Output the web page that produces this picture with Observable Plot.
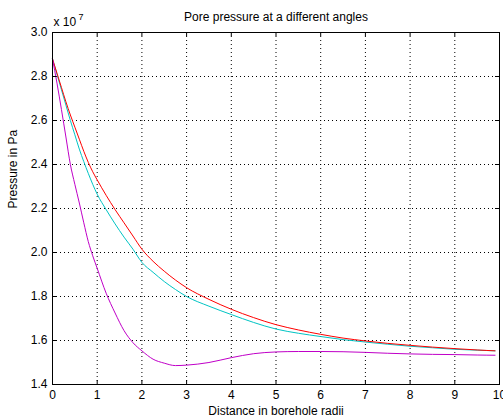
<!DOCTYPE html>
<html>
<head>
<meta charset="utf-8">
<script src="https://cdn.jsdelivr.net/npm/d3@7"></script>
<script src="https://cdn.jsdelivr.net/npm/@observablehq/plot@0.6"></script>
<style>
  html, body { margin: 0; padding: 0; background: white; }
</style>
</head>
<body>
<div id="chart"></div>
<script>
const title = "Pore pressure at a different angles";
const xLabel = "Distance in borehole radii";
const yLabel = "Pressure in Pa";
const xTicks = [0, 1, 2, 3, 4, 5, 6, 7, 8, 9, 10];
const yTicks = [1.4, 1.6, 1.8, 2.0, 2.2, 2.4, 2.6, 2.8, 3.0];

const distance = [0, 0.1, 0.2, 0.3, 0.4, 0.5, 0.6, 0.7, 0.8, 0.9, 1.0, 1.2, 1.4, 1.6, 1.8, 2.0, 2.25, 2.5, 2.75, 3.0, 3.5, 4.0, 4.5, 5.0, 5.5, 6.0, 6.5, 7.0, 7.5, 8.0, 8.5, 9.0, 9.5, 9.9];
const redSeries = [2.88, 2.815, 2.75, 2.685, 2.625, 2.57, 2.515, 2.46, 2.41, 2.367, 2.33, 2.26, 2.195, 2.135, 2.075, 2.015, 1.96, 1.915, 1.875, 1.84, 1.787, 1.742, 1.704, 1.672, 1.648, 1.628, 1.611, 1.598, 1.587, 1.578, 1.57, 1.563, 1.557, 1.553];
const cyanSeries = [2.88, 2.81, 2.74, 2.67, 2.60, 2.535, 2.47, 2.413, 2.36, 2.31, 2.265, 2.195, 2.13, 2.07, 2.015, 1.955, 1.91, 1.868, 1.832, 1.80, 1.756, 1.718, 1.682, 1.652, 1.633, 1.618, 1.604, 1.593, 1.583, 1.574, 1.567, 1.56, 1.556, 1.553];
const magentaSeries = [2.88, 2.77, 2.65, 2.525, 2.40, 2.31, 2.225, 2.135, 2.05, 1.985, 1.928, 1.815, 1.725, 1.645, 1.59, 1.553, 1.515, 1.497, 1.486, 1.488, 1.50, 1.522, 1.54, 1.548, 1.55, 1.55, 1.549, 1.546, 1.542, 1.539, 1.537, 1.536, 1.534, 1.533];

const rows = (vals) => distance.map((x, i) => ({x, v: vals[i]}));

const W = 503, H = 419, mT = 32, mB = 35, mL = 52, mR = 4;
const plotW = W - mL - mR, plotH = H - mT - mB;
const dotted = {stroke: "black", strokeOpacity: 1, strokeWidth: 1, strokeDasharray: "1,3"};
const tickLen = 4;

const chart = Plot.plot({
  width: W, height: H,
  marginTop: mT, marginBottom: mB, marginLeft: mL, marginRight: mR,
  style: {fontFamily: "'Liberation Sans', Arial, sans-serif", fontSize: "12px", background: "white", color: "black", overflow: "visible"},
  x: {domain: [0, 10]},
  y: {domain: [1.4, 3]},
  marks: [
    Plot.ruleX(xTicks.slice(1, -1), dotted),
    Plot.ruleY(yTicks.slice(1, -1), dotted),
    Plot.line(rows(cyanSeries), {x: "x", y: "v", stroke: "#00c4c4", strokeWidth: 1, curve: "monotone-x"}),
    Plot.line(rows(redSeries), {x: "x", y: "v", stroke: "#ff0000", strokeWidth: 1, curve: "monotone-x"}),
    Plot.line(rows(magentaSeries), {x: "x", y: "v", stroke: "#c000c8", strokeWidth: 1, curve: "monotone-x"}),
    Plot.ruleX(xTicks, {stroke: "black", insetTop: plotH - tickLen}),
    Plot.ruleX(xTicks, {stroke: "black", insetBottom: plotH - tickLen}),
    Plot.ruleY(yTicks, {stroke: "black", insetRight: plotW - tickLen}),
    Plot.ruleY(yTicks, {stroke: "black", insetLeft: plotW - tickLen}),
    Plot.axisX(xTicks, {tickSize: 0, tickPadding: 6, label: null, fontSize: 12}),
    Plot.axisY(yTicks, {tickSize: 0, tickPadding: 5, label: null, fontSize: 12}),
    Plot.frame({stroke: "black"}),
    Plot.text([title], {frameAnchor: "top", dy: -12, lineAnchor: "bottom", fontSize: 12}),
    Plot.text(["x 10"], {frameAnchor: "top-left", dx: 1, dy: -7, lineAnchor: "bottom", textAnchor: "start", fontSize: 12}),
    Plot.text(["7"], {frameAnchor: "top-left", dx: 26, dy: -13, lineAnchor: "bottom", textAnchor: "start", fontSize: 9}),
    Plot.text([xLabel], {frameAnchor: "bottom", dy: 30, lineAnchor: "bottom", fontSize: 12}),
    Plot.text([yLabel], {frameAnchor: "left", dx: -39, rotate: -90, fontSize: 12})
  ]
});
document.getElementById("chart").append(chart);
</script>
</body>
</html>
